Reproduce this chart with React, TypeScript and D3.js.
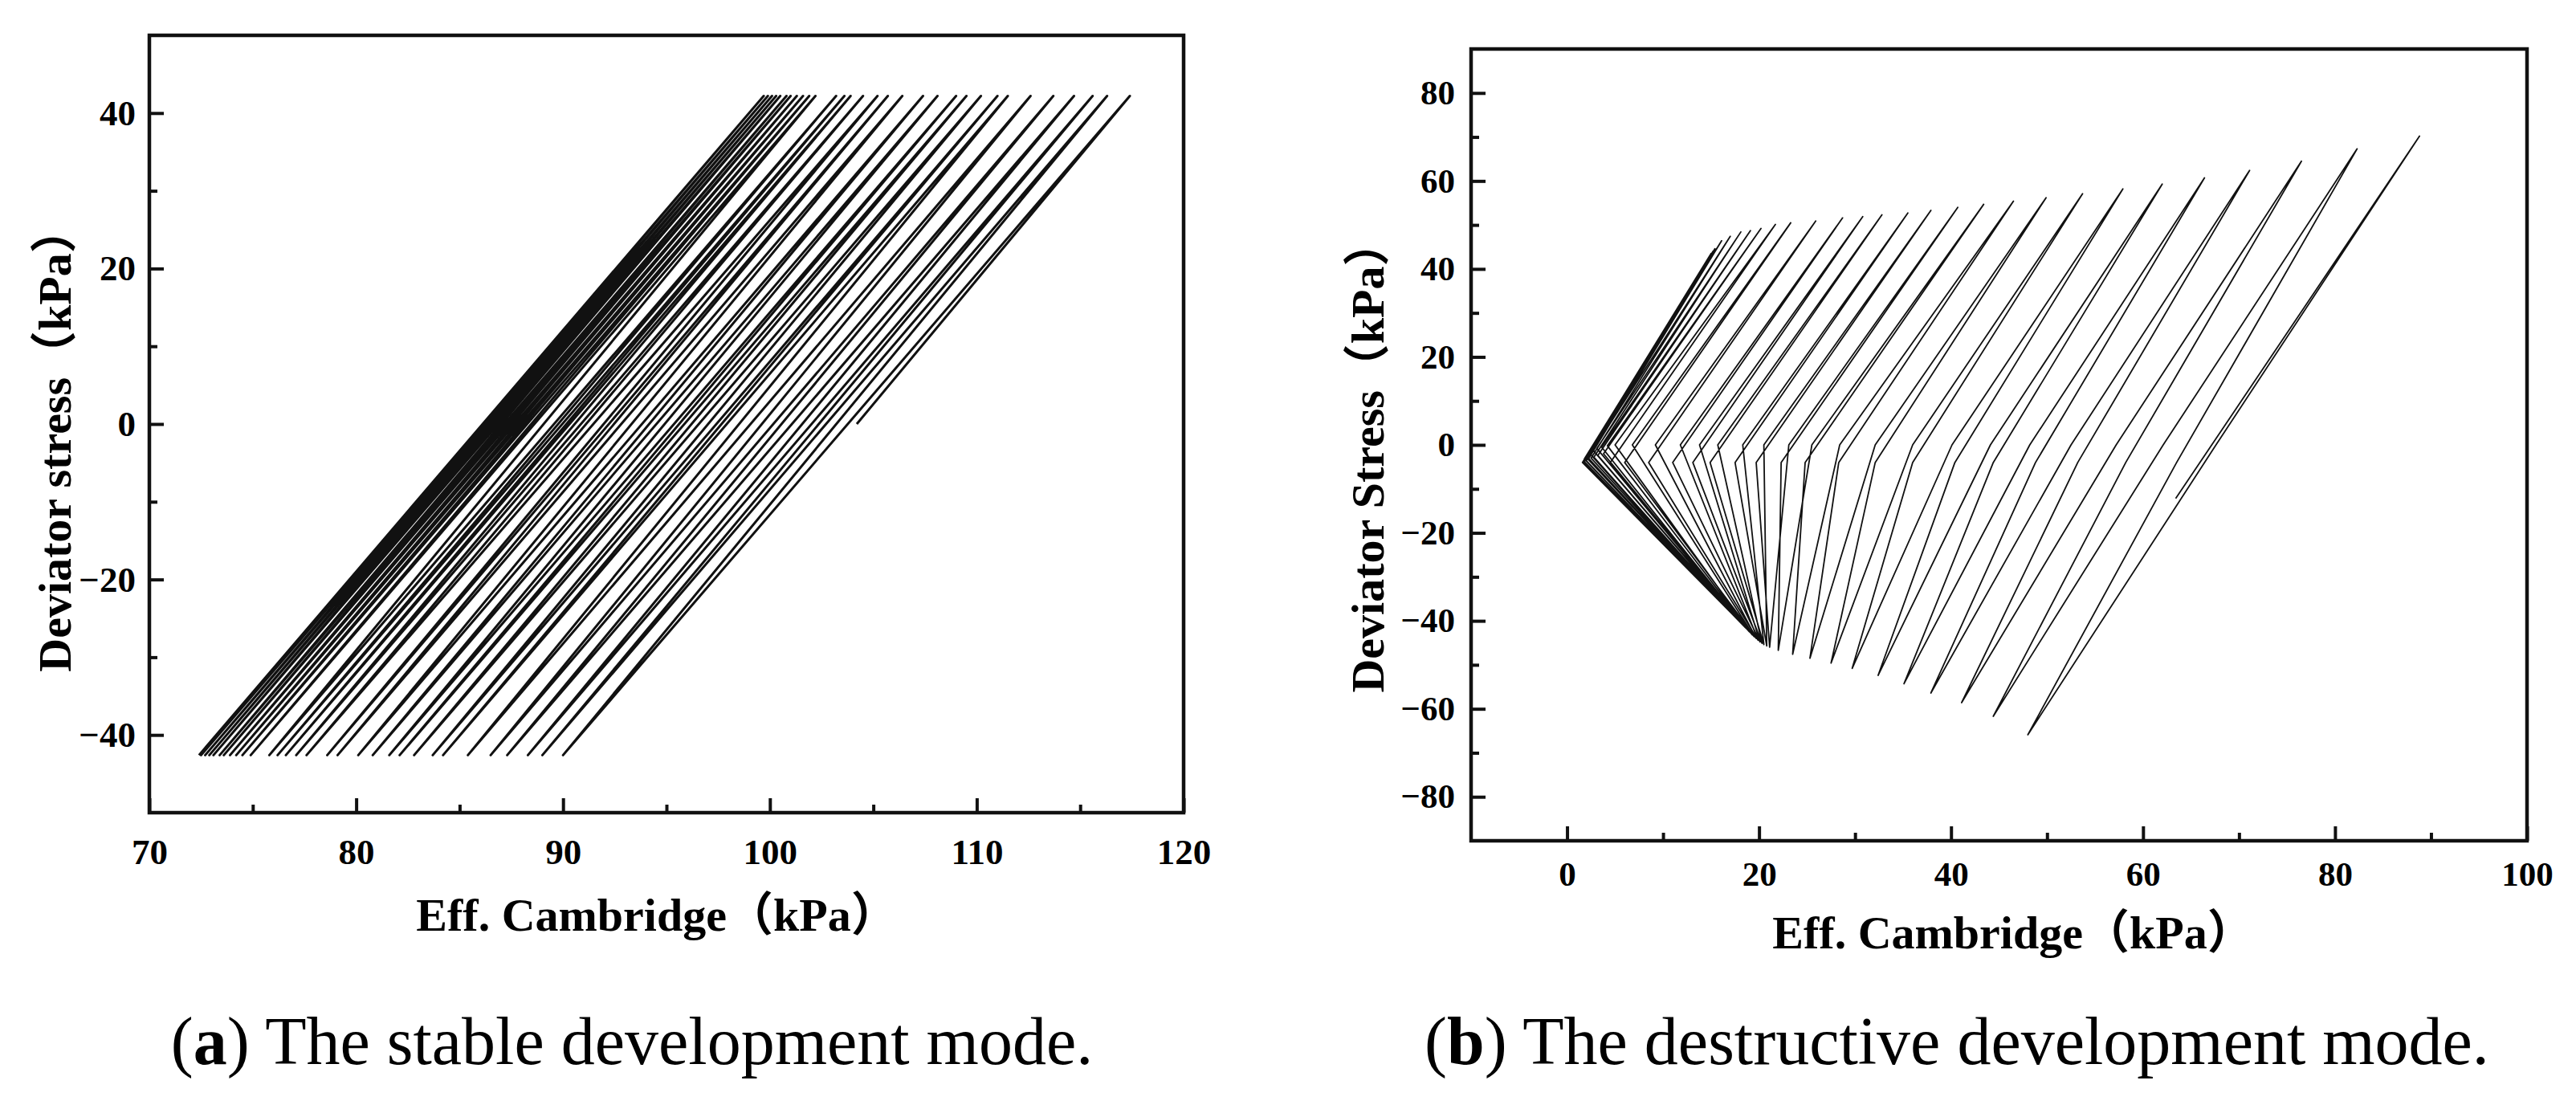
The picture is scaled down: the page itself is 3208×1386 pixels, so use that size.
import React, { useEffect, useRef } from "react";
import * as d3 from "d3";

// ---- (a) stable development mode ----
// p' (kPa) at each load reversal, in test order
const stablePeakP = [117.4, 116.3, 115.6, 114.7, 113.7, 112.6, 111.5, 111.0, 110.2, 109.5, 109.0, 108.1, 107.4, 106.4, 105.7, 105.2, 104.5, 103.9, 103.6, 103.2, 102.2, 101.9, 101.6, 101.3, 101.0, 100.8, 100.5, 100.3, 100.1, 99.9, 99.7];
const stableTroughP = [90.0, 89.0, 88.3, 87.3, 86.5, 85.4, 84.2, 83.7, 82.8, 82.1, 81.6, 80.8, 80.1, 79.1, 78.6, 77.6, 77.1, 76.6, 76.2, 75.8, 74.9, 74.5, 74.2, 73.9, 73.6, 73.4, 73.1, 72.9, 72.7, 72.5, 72.4];
const stablePeakQ = 42.2;
const stableTroughQ = -42.6;
const stableStart = [104.2, 0];

// ---- (b) destructive development mode ----
// per cycle: top of loop, knee on the way down, bottom, knee on the way up to the next top
const failStart = [63.4, -12.2];
const failTopP = [88.8, 82.3, 76.5, 71.1, 66.4, 62.0, 57.9, 53.7, 49.9, 46.5, 43.4, 40.7, 37.9, 35.5, 32.8, 30.8, 28.7, 25.9, 23.3, 21.7, 20.2, 19.1, 18.1, 17.0, 16.1, 15.4, 15.2, 15.0];
const failTopQ = [70.2, 67.3, 64.5, 62.4, 60.7, 59.3, 58.2, 57.1, 56.2, 55.4, 54.7, 54.0, 53.3, 52.7, 52.3, 51.9, 51.6, 50.9, 50.5, 50.1, 49.2, 48.7, 48.4, 47.4, 46.4, 44.6, 44.0, 43.5];
const failDownKneeP = [67.6, 62.1, 57.2, 52.5, 48.2, 44.1, 40.1, 36.0, 32.1, 28.4, 25.5, 23.1, 20.5, 18.3, 15.7, 13.8, 11.8, 9.2, 6.8, 5.0, 4.2, 3.6, 3.1, 2.7, 2.3, 2.0, 1.8, 1.6];
const failDownKneeQ = [0, 0, 0, 0, 0, 0, 0, 0, 0, 0, 0, 0, 0, 0, 0, 0, 0, 0, 0, 0, -0.2, -0.5, -0.8, -1.2, -1.8, -2.5, -3.2, -4.0];
const failBottomP = [48.0, 44.4, 41.1, 37.9, 35.1, 32.4, 29.7, 27.5, 25.3, 23.5, 22.0, 21.1, 20.8, 20.5, 20.3, 20.1, 19.9, 19.7, 19.5, 19.3, 19.2, 19.0, 18.9, 18.8, 18.7, 18.6, 18.5, 18.4];
const failBottomQ = [-65.9, -61.7, -58.6, -56.4, -54.3, -52.4, -50.8, -49.6, -48.5, -47.6, -46.7, -46.0, -45.7, -45.4, -45.1, -44.8, -44.4, -44.0, -43.6, -43.2, -42.9, -42.5, -42.2, -42.0, -41.8, -41.6, -41.3, -41.1];
const failUpKneeP = [63.5, 58.2, 53.2, 48.8, 44.4, 40.4, 36.0, 32.1, 28.3, 24.8, 22.3, 19.7, 17.5, 14.9, 13.1, 11.0, 8.5, 6.0, 4.5, 3.8, 3.2, 2.8, 2.5, 2.2, 2.0, 1.8, 1.7];
const failUpKneeQ = [-4, -4, -4, -4, -4, -4, -4, -4, -4, -4, -4, -4, -4, -4, -4, -4, -4, -4, -4, -2.0, -2.4, -2.8, -3.0, -3.3, -3.6, -3.8, -4.0];

// axis ticks
const xTicksA = [70, 80, 90, 100, 110, 120];
const xMinorA = [75, 85, 95, 105, 115];
const yTicksA = [-40, -20, 0, 20, 40];
const yMinorA = [-30, -10, 10, 30];
const xTicksB = [0, 20, 40, 60, 80, 100];
const xMinorB = [10, 30, 50, 70, 90];
const yTicksB = [-80, -60, -40, -20, 0, 20, 40, 60, 80];
const yMinorB = [-70, -50, -30, -10, 10, 30, 50, 70];

const serif = "'Liberation Serif', 'Times New Roman', 'Noto Sans CJK SC', serif";

const drawPanel = (svg, o) => {
  const g = svg.append("g");
  const fmt = d3.format("d");

  // data path
  const line = d3.line().x(d => o.x(d[0])).y(d => o.y(d[1]));
  g.append("path")
    .datum(o.points)
    .attr("d", line)
    .attr("fill", "none")
    .attr("stroke", "#111")
    .attr("stroke-width", o.lineWidth)
    .attr("stroke-linejoin", "round");

  const [x0, x1] = o.x.range();
  const [y0, y1] = o.y.range();

  const styleAxis = (a, size) => {
    a.select(".domain").remove();
    a.selectAll(".tick line").attr("stroke", "#111").attr("stroke-width", 4);
    a.selectAll("text")
      .attr("font-family", serif)
      .attr("font-weight", "bold")
      .attr("font-size", size)
      .attr("fill", "#000");
  };

  // x axis, ticks inward
  g.append("g")
    .attr("transform", `translate(0,${y0})`)
    .call(d3.axisBottom(o.x).tickValues(o.xTicks).tickSize(-18).tickPadding(o.xPad).tickFormat(fmt))
    .call(a => styleAxis(a, o.fontSize));
  g.append("g")
    .attr("transform", `translate(0,${y0})`)
    .call(d3.axisBottom(o.x).tickValues(o.xMinor).tickSize(-10).tickFormat(() => ""))
    .call(a => styleAxis(a, o.fontSize));

  // y axis
  g.append("g")
    .attr("transform", `translate(${x0},0)`)
    .call(d3.axisLeft(o.y).tickValues(o.yTicks).tickSize(-18).tickPadding(o.yPad).tickFormat(fmt))
    .call(a => styleAxis(a, o.fontSize));
  g.append("g")
    .attr("transform", `translate(${x0},0)`)
    .call(d3.axisLeft(o.y).tickValues(o.yMinor).tickSize(-10).tickFormat(() => ""))
    .call(a => styleAxis(a, o.fontSize));

  // frame
  g.append("rect")
    .attr("x", x0)
    .attr("y", y1)
    .attr("width", x1 - x0)
    .attr("height", y0 - y1)
    .attr("fill", "none")
    .attr("stroke", "#111")
    .attr("stroke-width", 4.5);

  // titles
  g.append("text")
    .attr("x", o.xTitle[0])
    .attr("y", o.xTitle[1])
    .attr("text-anchor", "middle")
    .attr("font-family", serif)
    .attr("font-weight", "bold")
    .attr("font-size", 58)
    .text("Eff. Cambridge（kPa）");

  g.append("text")
    .attr("transform", `translate(${o.yTitle[0]},${o.yTitle[1]}) rotate(-90)`)
    .attr("y", 19)
    .attr("text-anchor", "middle")
    .attr("font-family", serif)
    .attr("font-weight", "bold")
    .attr("font-size", 58)
    .text(o.yLabel);
};

const App = () => {
  const svgRef = useRef(null);

  useEffect(() => {
    const svg = d3.select(svgRef.current);
    svg.selectAll("*").remove();

    // (a)
    const xa = d3.scaleLinear().domain([70, 120]).range([186, 1474]);
    const ya = d3.scaleLinear().domain([-50, 50]).range([1012, 44]);
    const stablePts = [stableStart];
    stablePeakP.forEach((p, i) => {
      stablePts.push([p, stablePeakQ]);
      stablePts.push([stableTroughP[i], stableTroughQ]);
    });
    drawPanel(svg, {
      x: xa, y: ya, points: stablePts, lineWidth: 3,
      xTicks: xTicksA, xMinor: xMinorA, yTicks: yTicksA, yMinor: yMinorA,
      fontSize: 45, xPad: 32, yPad: 17,
      xTitle: [818, 1159], yTitle: [69, 547], yLabel: "Deviator stress（kPa）",
    });

    // (b)
    const xb = d3.scaleLinear().domain([-10, 100]).range([1832, 3147]);
    const yb = d3.scaleLinear().domain([-90, 90]).range([1047, 61]);
    const failPts = [failStart];
    failTopP.forEach((p, i) => {
      failPts.push([p, failTopQ[i]]);
      failPts.push([failDownKneeP[i], failDownKneeQ[i]]);
      failPts.push([failBottomP[i], failBottomQ[i]]);
      if (i < failUpKneeP.length) failPts.push([failUpKneeP[i], failUpKneeQ[i]]);
    });
    drawPanel(svg, {
      x: xb, y: yb, points: failPts, lineWidth: 1.8,
      xTicks: xTicksB, xMinor: xMinorB, yTicks: yTicksB, yMinor: yMinorB,
      fontSize: 43, xPad: 25, yPad: 20,
      xTitle: [2507, 1181], yTitle: [1704, 568], yLabel: "Deviator Stress（kPa）",
    });

    // captions
    const caption = (x, letter, rest) => {
      const t = svg.append("text")
        .attr("x", x)
        .attr("y", 1325)
        .attr("text-anchor", "middle")
        .attr("font-family", serif)
        .attr("font-size", 84)
        .attr("fill", "#000");
      t.append("tspan").text("(");
      t.append("tspan").attr("font-weight", "bold").text(letter);
      t.append("tspan").text(") " + rest);
    };
    caption(787, "a", "The stable development mode.");
    caption(2437, "b", "The destructive development mode.");
  }, []);

  return (
    <svg
      ref={svgRef}
      width={3208}
      height={1386}
      style={{ position: "absolute", left: 0, top: 0, background: "#fff", display: "block" }}
    />
  );
};

export default App;
